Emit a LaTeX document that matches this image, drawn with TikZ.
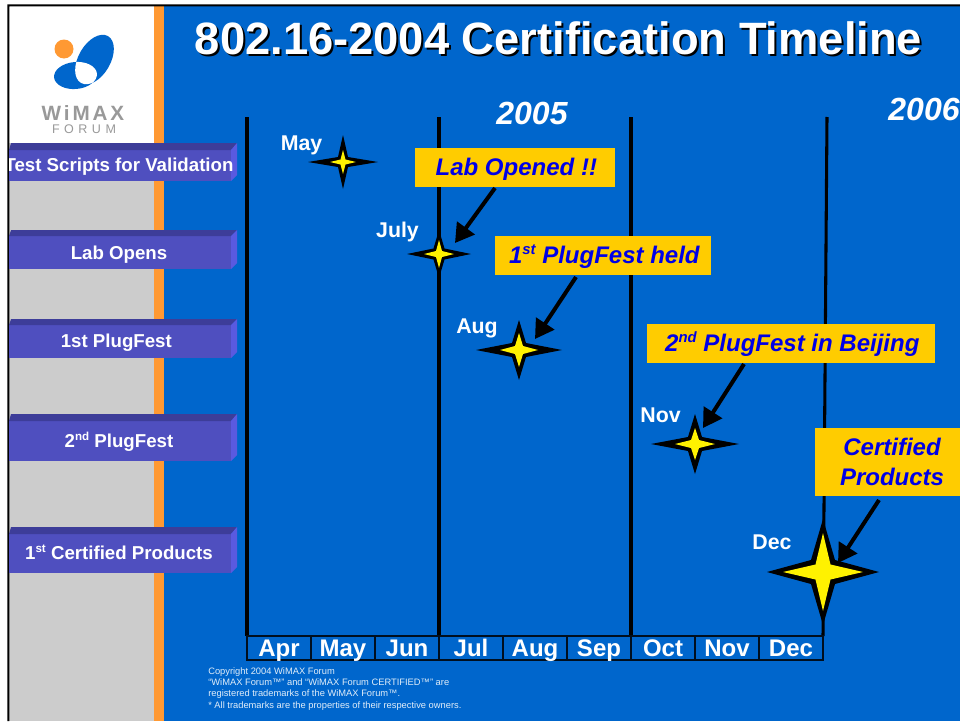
\documentclass[tikz,border=0pt]{standalone}
\usepackage{fontspec}
\setmainfont{Liberation Sans}
\newfontfamily\logofont[LetterSpace=14]{Liberation Sans}
\newfontfamily\logofontb[LetterSpace=36]{Liberation Sans}
\usetikzlibrary{arrows.meta}
\definecolor{wblue}{HTML}{0066CC}
\definecolor{worange}{HTML}{FF9933}
\definecolor{wgrey}{HTML}{CCCCCC}
\definecolor{wbarf}{HTML}{4F4FBF}
\definecolor{wbart}{HTML}{3D3D99}
\definecolor{wbarr}{HTML}{5A5AE0}
\definecolor{wgold}{HTML}{FFCC00}
\definecolor{wink}{HTML}{0000E6}
\definecolor{wlogo}{HTML}{999999}
\newcommand{\fsz}[1]{\fontsize{#1}{1.15\dimexpr #1pt\relax}\selectfont}
\newcommand{\wsup}[1]{\raisebox{0.36em}{\scalebox{0.62}{#1}}}
\tikzset{
  titletext/.style={font=\fsz{34}\bfseries, inner sep=0pt},
  yeartext/.style={font=\fsz{24}\bfseries\itshape, text=white, inner sep=0pt},
  bartext/.style={font=\fsz{14}\bfseries, text=white, inner sep=0pt, text height=12pt, text depth=2.5pt},
  monthbox/.style={draw=black!85!wblue, line width=0.8pt, minimum width=48pt, minimum height=18pt, inner sep=0pt, font=\fsz{18}\bfseries, text=white, text height=14pt, text depth=2pt},
  starlabel/.style={font=\fsz{16}\bfseries, text=white, inner sep=0pt, anchor=base},
  callout/.style={fill=wgold, inner sep=0pt, font=\fsz{18}\bfseries\itshape, text=wink, align=center},
  calloutone/.style={callout, minimum height=29.25pt, text height=15pt, text depth=3pt},
  timeline/.style={line width=2.3pt, black},
  pointer/.style={line width=3pt, black, -{Triangle[length=14pt,width=16pt]}},
}
% name, x, y, rx, ry, waist, yellow rx, yellow ry, yellow waist
\newcommand{\wstar}[9]{%
  \coordinate (#1) at (#2,#3);
  \fill[black,shift={(#1)}] (-#4,0) -- (-#6,-#6) -- (0,-#5) -- (#6,-#6) -- (#4,0) -- (#6,#6) -- (0,#5) -- (-#6,#6) -- cycle;
  \fill[yellow,shift={(#1)}] (-#7,0) -- (-#9,-#9) -- (0,-#8) -- (#9,-#9) -- (#7,0) -- (#9,#9) -- (0,#8) -- (-#9,#9) -- cycle;
}
% name, top, front top, bottom, text y, text
\newcommand{\wbar}[6]{%
  \fill[wbarf] (9,#3) rectangle (231,#4);
  \fill[wbart] (9,#3) -- (11,#2) -- (237,#2) -- (231,#3) -- cycle;
  \fill[wbarr] (231,#3) -- (237,#2) -- (237,#4-6) -- (231,#4) -- cycle;
  \begin{scope}
    \clip (9,#2) rectangle (240,#4);
    \node[bartext] (#1) at (119,#5) {#6};
  \end{scope}
}
\begin{document}
\begin{tikzpicture}[x=0.75pt,y=-0.75pt]
\useasboundingbox (0,0) rectangle (960,721);
\fill[white] (0,0) rectangle (960,721);
% panels
\fill[wblue] (164,5) rectangle (960,721);
\fill[worange] (154,5) rectangle (164,721);
\fill[wgrey] (9,143) rectangle (154,721);
\fill[black] (7.3,721) -- (7.3,4.3) -- (960,4.3) -- (960,6.3) -- (9.3,6.3) -- (9.3,721) -- cycle;
% logo
\fill[worange] (64,49) circle [radius=9.5];
\fill[wblue,shift={(94.5,59.5)},rotate=60] (0,0) ellipse [x radius=27,y radius=16];
\fill[wblue,shift={(75.5,75.5)},rotate=5] (0,0) ellipse [x radius=21.5,y radius=13.5];
\begin{scope}
  \clip[shift={(94.5,59.5)},rotate=60] (0,0) ellipse [x radius=27,y radius=16];
  \fill[white,shift={(75.5,75.5)},rotate=5] (0,0) ellipse [x radius=21.5,y radius=13.5];
\end{scope}
\node[inner sep=0pt,text=wlogo,font=\fsz{15.5}\logofont\bfseries] (wimax) at (83,113) {WiMAX};
\node[inner sep=0pt,text=wlogo,font=\fsz{9.4}\logofontb] (forum) at (84,129) {FORUM};
% title
\node[titletext,text=black] (titleshadow) at (560.5,40.5) {802.16-2004 Certification Timeline};
\node[titletext,text=white] (title) at (558.5,38.5) {802.16-2004 Certification Timeline};
\node[yeartext] (y2005) at (532,113) {2005};
\node[yeartext] (y2006) at (924,109) {2006};
% timeline rules
\coordinate (ta) at (247,117); \coordinate (tb) at (247,636);
\coordinate (tc) at (439,117); \coordinate (td) at (439,636);
\coordinate (te) at (631,117); \coordinate (tf) at (631,636);
\coordinate (tg) at (827,117); \coordinate (th) at (823,636);
\draw[timeline] (ta) -- (tb);
\draw[timeline] (tc) -- (td);
\draw[timeline] (te) -- (tf);
\draw[timeline] (tg) -- (th);
% months
\node[monthbox] (mapr) at (279,648) {Apr};
\node[monthbox] (mmay) at (343,648) {May};
\node[monthbox] (mjun) at (407,648) {Jun};
\node[monthbox] (mjul) at (471,648) {Jul};
\node[monthbox] (maug) at (535,648) {Aug};
\node[monthbox] (msep) at (599,648) {Sep};
\node[monthbox] (moct) at (663,648) {Oct};
\node[monthbox] (mnov) at (727,648) {Nov};
\node[monthbox] (mdec) at (791,648) {Dec};
% side bars
\wbar{b1}{143}{150}{181}{165}{Test Scripts for Validation}
\wbar{b2}{230}{236}{269}{253}{Lab Opens}
\wbar{b3}{319}{325}{358}{341}{1st PlugFest\hspace*{4pt}}
\wbar{b4}{414}{421}{461}{441}{2\wsup{nd} PlugFest}
\wbar{b5}{527}{534}{573}{553}{1\wsup{st} Certified Products}
% callouts
\node[calloutone,minimum width=150pt] (lab) at (515,167.5) {\hspace*{2pt}Lab Opened !!};
\node[calloutone,minimum width=162pt] (pf1) at (603,255.5) {\hspace*{2pt}1\wsup{st} PlugFest held};
\node[calloutone,minimum width=216pt] (pf2) at (791,343.5) {\hspace*{2pt}2\wsup{nd} PlugFest in Beijing};
\node[callout,minimum width=115.5pt,minimum height=51pt,font=\fontsize{18}{22}\bfseries\itshape] (cert) at (892,462) {Certified\\Products};
% stars
\wstar{smay}{343}{162}{35}{27}{5}{13}{12}{2.5}
\wstar{sjul}{439}{254}{32}{24}{5.5}{15}{14}{3}
\wstar{saug}{519}{350}{43}{30}{7}{19}{17}{4}
\wstar{snov}{695}{444}{44}{30}{7}{20}{16}{4}
\wstar{sdec}{823}{572}{56}{53}{12}{40}{39}{7.5}
% star labels
\node[starlabel] (lmay) at (301.5,150) {May};
\node[starlabel] (ljul) at (397.5,237) {July};
\node[starlabel] (laug) at (477,333) {Aug};
\node[starlabel] (lnov) at (660.5,422) {Nov};
\node[starlabel] (ldec) at (772,549) {Dec};
% pointers
\coordinate (p1a) at (495,188); \coordinate (p1b) at (455,243);
\coordinate (p2a) at (576,277); \coordinate (p2b) at (535,339);
\coordinate (p3a) at (744,364); \coordinate (p3b) at (703,428);
\coordinate (p4a) at (879,500); \coordinate (p4b) at (838,563);
\draw[pointer] (p1a) -- (p1b);
\draw[pointer] (p2a) -- (p2b);
\draw[pointer] (p3a) -- (p3b);
\draw[pointer] (p4a) -- (p4b);
% footer
\node[inner sep=0pt,anchor=north west,text=white!88!wblue,align=left,font=\fontsize{7}{8.3}\selectfont] (copy) at (208,667.5) {Copyright 2004 WiMAX Forum\\“WiMAX Forum™” and “WiMAX Forum CERTIFIED™” are\\registered trademarks of the WiMAX Forum™.\\[0.6pt]* All trademarks are the properties of their respective owners.};
\end{tikzpicture}
\end{document}
